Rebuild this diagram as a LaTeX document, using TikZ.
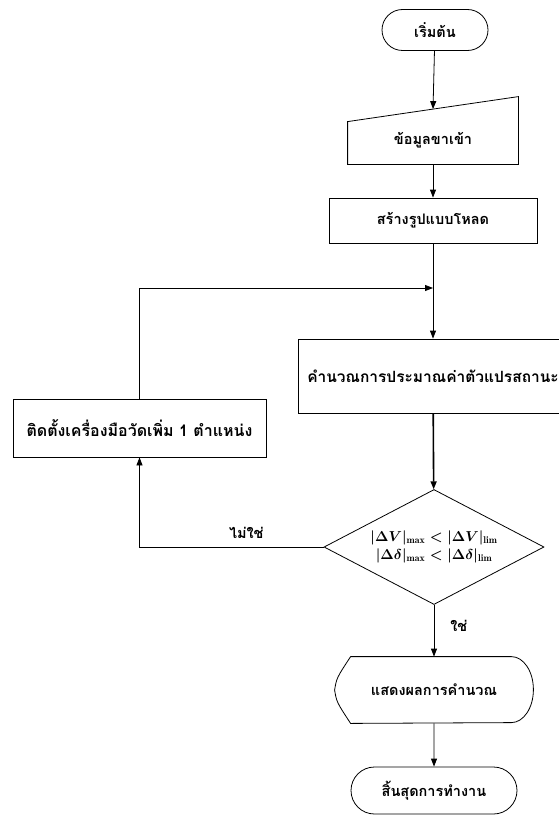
\documentclass[tikz,border=0pt]{standalone}
\usepackage{fontspec}
\newfontfamily\thaifont[Script=Thai]{Loma}
\usetikzlibrary{arrows.meta,positioning,shapes.geometric,shapes.misc,calc}

\begin{document}
\begin{tikzpicture}[x=1pt,y=-1pt,line width=0.8pt,
    every node/.style={font=\thaifont\bfseries\fontsize{14.5}{17}\selectfont, inner sep=0pt},
    procbox/.style={draw, rectangle},
    termbox/.style={draw, rounded rectangle},
    flow/.style={-{Triangle[length=8pt,width=6pt]}},
    flowthick/.style={flow, line width=1.6pt}]
  \useasboundingbox (0,0) rectangle (559,816);
  \clip (0,0) rectangle (559,816);

  % shapes
  \node[termbox, minimum width=106pt, minimum height=41pt] (start) at (435,30) {เริ่มต้น};
  \node[minimum width=170pt, minimum height=48pt] (input) at (433,140) {ข้อมูลขาเข้า};
  \draw (input.south west) -- (input.south east) -- ($(input.north east)+(0,-19)$)
        -- ($(input.north west)+(0,6)$) -- cycle;
  \coordinate (inTop) at ($(input.north)+(0,-6.5)$);
  \node[procbox, minimum width=208pt, minimum height=45pt] (load) at (433,220.5) {สร้างรูปแบบโหลด};
  \node[procbox, minimum width=270pt, minimum height=74pt,
        font=\thaifont\bfseries\fontsize{15.5}{19}\selectfont] (estimate) at (433,376) {คำนวณการประมาณค่าตัวแปรสถานะ};
  \node[procbox, minimum width=253pt, minimum height=58pt,
        font=\thaifont\bfseries\fontsize{16}{19}\selectfont] (addmeter) at (139.5,428) {ติดตั้งเครื่องมือวัดเพิ่ม 1 ตำแหน่ง};
  \node[draw, diamond, aspect=1.9, minimum width=220pt, minimum height=115pt, align=center,
        font=\fontsize{14}{18}\selectfont\boldmath] (check) at (434,547)
        {$|\Delta V|_{\max}<|\Delta V|_{\mathrm{lim}}$\\$|\Delta\delta|_{\max}<|\Delta\delta|_{\mathrm{lim}}$};
  \node[minimum width=198pt, minimum height=66pt] (show) at (434,690) {แสดงผลการคำนวณ};
  \draw ($(show.north west)+(16,0)$) -- ($(show.north east)+(-22,0)$)
        arc[start angle=90, end angle=-90, x radius=22pt, y radius=33pt]
        -- ($(show.south west)+(16,0)$)
        .. controls ($(show.west)+(2,12)$) .. (show.west)
        .. controls ($(show.west)+(2,-12)$) .. ($(show.north west)+(16,0)$);
  \node[termbox, minimum width=166pt, minimum height=47pt] (finish) at (434,790.5) {สิ้นสุดการทำงาน};

  % connectors
  \coordinate (merge) at (433,288);
  \draw[flow] (start) -- (inTop);
  \draw[flow] (input) -- (load);
  \draw[flow] (load) -- (estimate);
  \draw[flowthick] (estimate) -- (check);
  \draw[flow] (check) -- node[pos=0.4, right=16pt] (yes) {ใช่} (show);
  \draw[flow] (show) -- (finish);
  \draw[flow] (check.west) -| node[pos=0.21, above=8pt] (no) {ไม่ใช่} (addmeter.south);
  \draw[flow] (addmeter.north) |- (merge);
\end{tikzpicture}
\end{document}
